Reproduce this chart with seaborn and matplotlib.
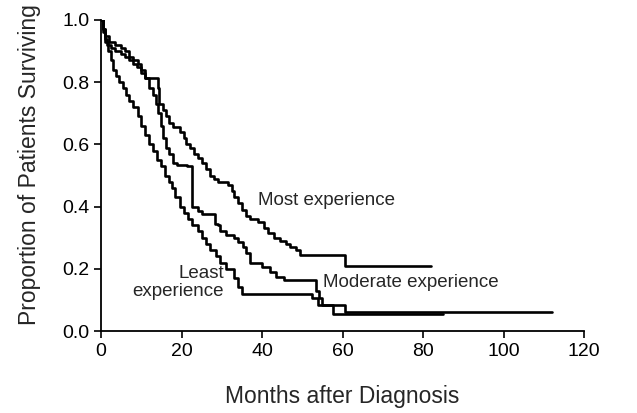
import matplotlib
matplotlib.use("Agg")
import matplotlib.pyplot as plt
import seaborn as sns
import pandas as pd

# Kaplan-Meier curves (months, proportion surviving)
most_t = [0, 0.5, 1, 2, 3.5, 5, 6, 7, 8, 9.2, 10, 11, 14.2, 14.5, 15.5, 16.2, 17, 18,
          19.6, 20.5, 21.2, 22, 23, 24, 25, 26, 27, 28, 29, 31.5, 32.5, 33, 34, 35, 36,
          37, 39, 40.5, 41.5, 43, 44.5, 46, 47, 48.5, 49.5, 60.5, 82]
most_s = [1.0, 0.97, 0.95, 0.93, 0.92, 0.91, 0.90, 0.88, 0.87, 0.86, 0.84, 0.815, 0.78,
          0.73, 0.71, 0.69, 0.67, 0.655, 0.64, 0.62, 0.60, 0.59, 0.57, 0.555, 0.54, 0.52,
          0.50, 0.49, 0.48, 0.47, 0.45, 0.43, 0.41, 0.39, 0.37, 0.36, 0.35, 0.33, 0.315,
          0.30, 0.29, 0.28, 0.27, 0.26, 0.245, 0.21, 0.21]

moderate_t = [0, 0.5, 1, 1.5, 2.5, 3.5, 5, 6, 7, 8, 9, 10, 11, 12, 13, 13.6, 14.2, 14.8,
              15.4, 16.2, 17, 17.9, 19, 21.4, 22.5, 22.7, 24, 25, 28.3, 29, 29.6, 31, 33,
              34, 35.3, 36, 37, 40, 42, 43.5, 45.5, 53.5, 54.2, 55, 60.6, 112]
moderate_s = [1.0, 0.97, 0.94, 0.92, 0.91, 0.90, 0.89, 0.88, 0.87, 0.86, 0.85, 0.83,
              0.815, 0.78, 0.76, 0.73, 0.70, 0.66, 0.62, 0.59, 0.57, 0.54, 0.535, 0.53,
              0.45, 0.40, 0.385, 0.375, 0.345, 0.34, 0.32, 0.31, 0.30, 0.285, 0.27, 0.25,
              0.22, 0.205, 0.19, 0.175, 0.165, 0.13, 0.105, 0.085, 0.06, 0.06]

least_t = [0, 0.5, 1, 1.7, 2.5, 3, 3.7, 4.5, 5.5, 6.2, 7, 8, 9.2, 10, 11, 11.8, 13, 14,
           15, 16, 16.8, 17.6, 18.5, 19.6, 20.5, 21.5, 22.5, 24, 25, 26, 27, 28.5, 29.5,
           31, 33, 34, 35, 52.5, 54, 57.7, 85]
least_s = [1.0, 0.96, 0.93, 0.90, 0.87, 0.84, 0.82, 0.80, 0.78, 0.76, 0.74, 0.72, 0.69,
           0.66, 0.63, 0.60, 0.58, 0.55, 0.53, 0.50, 0.48, 0.46, 0.43, 0.40, 0.38, 0.36,
           0.34, 0.32, 0.30, 0.28, 0.26, 0.24, 0.22, 0.20, 0.17, 0.14, 0.12, 0.105,
           0.085, 0.055, 0.055]

x_ticks = [0, 20, 40, 60, 80, 100, 120]
y_ticks = [0.0, 0.2, 0.4, 0.6, 0.8, 1.0]

df = pd.concat([
    pd.DataFrame({"months": most_t, "surv": most_s, "group": "Most"}),
    pd.DataFrame({"months": moderate_t, "surv": moderate_s, "group": "Moderate"}),
    pd.DataFrame({"months": least_t, "surv": least_s, "group": "Least"}),
])

sns.set_style("ticks")
plt.rcParams["font.family"] = ["Liberation Sans", "DejaVu Sans"]

fig = plt.figure(figsize=(6.37, 4.13), dpi=100)
ax = fig.add_axes([0.1586, 0.1985, 0.7582, 0.7531])

sns.lineplot(data=df, x="months", y="surv", hue="group",
             palette={"Most": "black", "Moderate": "black", "Least": "black"},
             drawstyle="steps-post", linewidth=1.9, legend=False, ax=ax,
             estimator=None, sort=False)

ax.set_xlim(0, 120)
ax.set_ylim(0, 1.0)
ax.set_xticks(x_ticks)
ax.set_xticklabels([str(t) for t in x_ticks])
ax.set_yticks(y_ticks)
ax.set_yticklabels([f"{t:.1f}" for t in y_ticks])
ax.tick_params(axis="both", labelsize=14, direction="out", length=5, width=1.2,
               colors="black")
for side in ["left", "bottom"]:
    ax.spines[side].set_linewidth(1.3)
    ax.spines[side].set_color("black")
sns.despine(ax=ax)

ax.set_xlabel("Months after Diagnosis", fontsize=16.5)
ax.set_ylabel("Proportion of Patients Surviving", fontsize=16.5)
ax.xaxis.set_label_coords(0.5, -0.175)
ax.yaxis.set_label_coords(-0.125, 0.534)

ax.text(39, 0.42, "Most experience", fontsize=13.5, va="center", ha="left")
ax.text(55.2, 0.155, "Moderate experience", fontsize=13.5, va="center", ha="left")
ax.text(30.5, 0.157, "Least\nexperience", fontsize=13.5, va="center", ha="right",
        multialignment="right", linespacing=1.1)

fig.savefig("out.png", dpi=100)
